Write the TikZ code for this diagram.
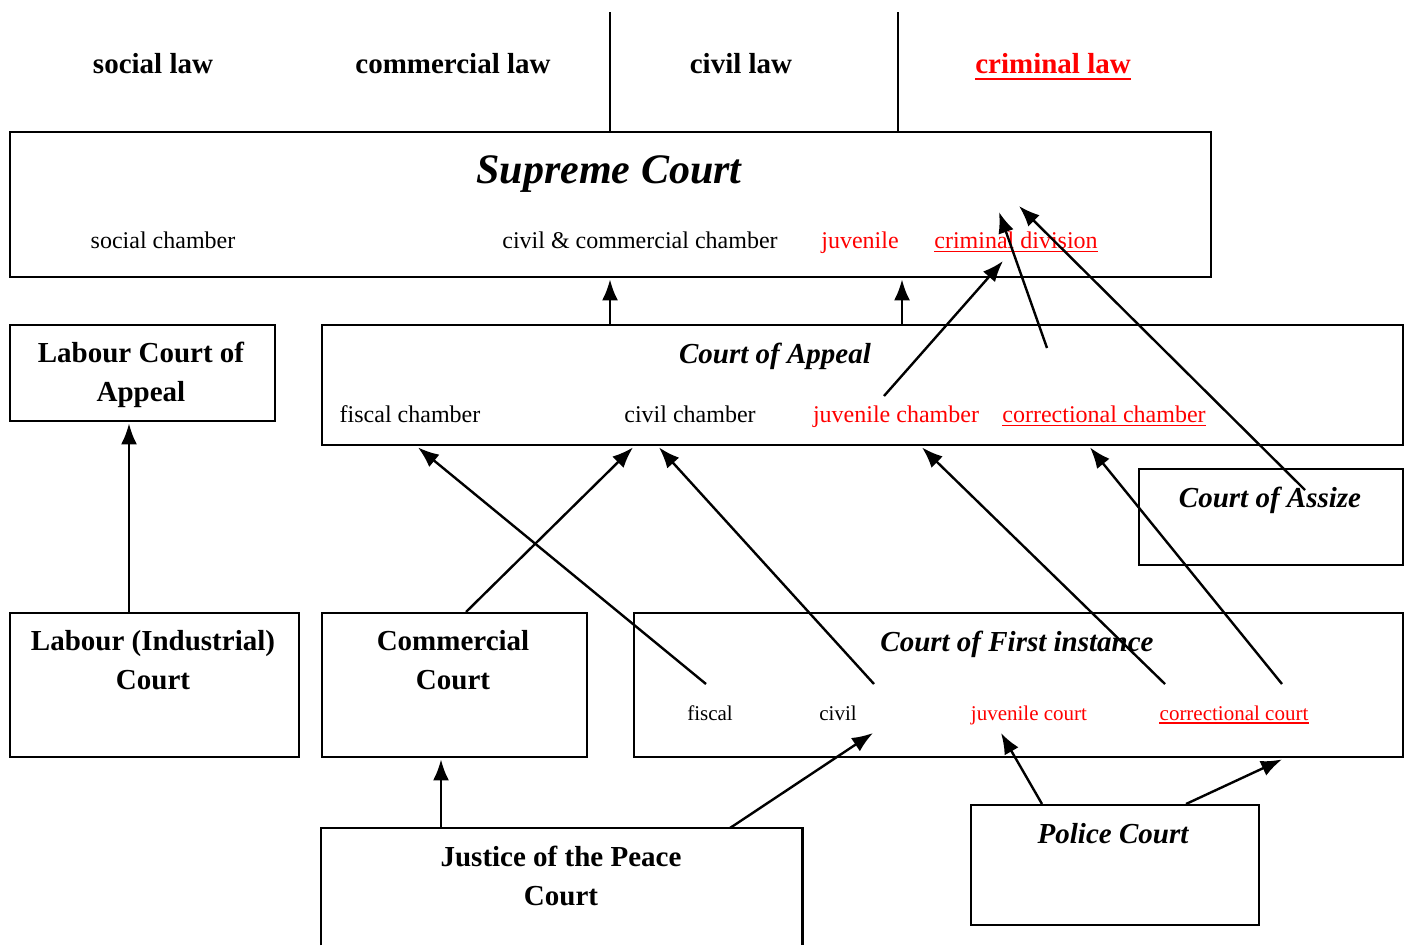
\documentclass[tikz,border=0pt]{standalone}
\usepackage{fontspec}
\setmainfont{Liberation Serif}
\usetikzlibrary{arrows.meta}

\begin{document}
\begin{tikzpicture}[x=1pt,y=-1pt,
  box/.style={draw, line width=2.4pt, inner sep=0pt, anchor=north west},
  head/.style={font=\fontsize{29}{39}\selectfont\bfseries, align=center, inner sep=0pt},
  ihead/.style={font=\fontsize{29}{39}\selectfont\bfseries\itshape, align=center, inner sep=0pt, anchor=base},
  lbl/.style={font=\fontsize{24}{28}\selectfont, inner sep=0pt, anchor=base},
  slbl/.style={font=\fontsize{21}{25}\selectfont, inner sep=0pt, anchor=base},
  crim/.style={text=red},
  uline/.style={draw=red, line width=1.4pt},
  link/.style={line width=2.4pt, -{Latex[length=21pt,width=16pt]}},
  divider/.style={line width=1.4pt}
]
\useasboundingbox (0,0) rectangle (1408,945);

% branches of law
\node[head] (tsoc) at (153,64) {social law};
\node[head] (tcom) at (453,64) {commercial law};
\node[head] (tciv) at (741,64) {civil law};
\node[head, crim] (tcri) at (1053,64) {criminal law};
\draw[uline, line width=2.2pt] ([yshift=-5pt]tcri.base west) -- ([yshift=-5pt]tcri.base east);

% courts
\node[box, minimum width=1201pt, minimum height=145pt] (sc) at (9,131) {};
\node[box, minimum width=1081pt, minimum height=120pt] (coa) at (321,324) {};
\node[box, minimum width=265pt, minimum height=96pt] (lca) at (9,324) {};
\node[box, minimum width=264pt, minimum height=96pt] (ass) at (1138,468) {};
\node[box, minimum width=289pt, minimum height=144pt] (lab) at (9,612) {};
\node[box, minimum width=265pt, minimum height=144pt] (com) at (321,612) {};
\node[box, minimum width=769pt, minimum height=144pt] (cfi) at (633,612) {};
\node[box, minimum width=288pt, minimum height=120pt] (pol) at (970,804) {};
\node[inner sep=0pt, anchor=north west, minimum width=481pt, minimum height=117pt] (jp) at (321,828) {};
\draw[line width=2.4pt] (jp.south west) |- (jp.north east) -- (jp.south east);

% separators between the law branches
\coordinate (s1) at (610,12);
\coordinate (s2) at (898,12);
\draw[divider] (sc.north -| s1) -- (s1);
\draw[divider] (sc.north -| s2) -- (s2);

% Supreme Court
\node[ihead, font=\fontsize{42}{48}\selectfont\bfseries\itshape] (sct) at (609,183) {Supreme Court};
\node[lbl] (scs) at (163,248) {social chamber};
\node[lbl] (scc) at (640,248) {civil \& commercial chamber};
\node[lbl, crim] (scj) at (860,248) {juvenile};
\node[lbl, crim] (scd) at (1016,248) {criminal division};
\draw[uline] ([yshift=-3.5pt]scd.base west) -- ([yshift=-3.5pt]scd.base east);

% Court of Appeal
\node[ihead] (coat) at (775,363) {Court of Appeal};
\node[lbl] (caf) at (410,422) {fiscal chamber};
\node[lbl] (cac) at (690,422) {civil chamber};
\node[lbl, crim] (caj) at (896,422) {juvenile chamber};
\node[lbl, crim] (cak) at (1104,422) {correctional chamber};
\draw[uline] ([yshift=-3.5pt]cak.base west) -- ([yshift=-3.5pt]cak.base east);

% other courts
\node[head] (lcat) at (141,375) {Labour Court of\\Appeal};
\node[ihead] (asst) at (1270,507) {Court of Assize};
\node[head] (labt) at (153,660) {Labour (Industrial)\\Court};
\node[head] (comt) at (453,660) {Commercial\\Court};
\node[head] (jpt) at (561,876) {Justice of the Peace\\Court};
\node[ihead] (polt) at (1113,843) {Police Court};

% Court of First instance
\node[ihead] (cfit) at (1017,651) {Court of First instance};
\node[slbl] (cff) at (710,720) {fiscal};
\node[slbl] (cfc) at (838,720) {civil};
\node[slbl, crim] (cfj) at (1029,720) {juvenile court};
\node[slbl, crim] (cfk) at (1234,720) {correctional court};
\draw[uline, line width=1.2pt] ([yshift=-3pt]cfk.base west) -- ([yshift=-3pt]cfk.base east);

% anchor points of the appeal routes
\coordinate (xa) at (129,0);
\coordinate (xb) at (610,0);
\coordinate (xc) at (902,0);
\coordinate (xd) at (441,0);
\coordinate (xe) at (466,0);
\coordinate (xf) at (633,0);
\coordinate (xg) at (1186,0);
\coordinate (xh) at (1282,0);
\coordinate (xi) at (730,0);
\coordinate (xj) at (1042,0);
\coordinate (xk) at (418,0);
\coordinate (xl) at (659,0);
\coordinate (xm) at (922,0);
\coordinate (xn) at (1090,0);
\coordinate (p1) at (873,733);
\coordinate (p2) at (1001,733);
\coordinate (f1) at (706,684);
\coordinate (f2) at (874,684);
\coordinate (f3) at (1165,684);
\coordinate (f4) at (1282,684);
\coordinate (a1) at (884,396);
\coordinate (a2) at (1003,261);
\coordinate (a3) at (1047,348);
\coordinate (a4) at (999,212);
\coordinate (a5) at (1305,490);
\coordinate (a6) at (1019,206);

% appeal routes
\draw[link] (lab.north -| xa) -- ([yshift=-1pt]lca.south -| xa);
\draw[link] (coa.north -| xb) -- ([yshift=-1pt]sc.south -| xb);
\draw[link] (coa.north -| xc) -- ([yshift=-1pt]sc.south -| xc);
\draw[link] (jp.north -| xd) -- ([yshift=-1pt]com.south -| xd);
\draw[link] (com.north -| xe) -- ([yshift=-1pt]coa.south -| xf);
\draw[link] (pol.north -| xg) -- ([yshift=-1pt]cfi.south -| xh);
\draw[link] (jp.north -| xi) -- (p1);
\draw[link] (pol.north -| xj) -- (p2);
\draw[link] (f1) -- ([yshift=-1pt]coa.south -| xk);
\draw[link] (f2) -- ([yshift=-1pt]coa.south -| xl);
\draw[link] (f3) -- ([yshift=-1pt]coa.south -| xm);
\draw[link] (f4) -- ([yshift=-1pt]coa.south -| xn);
\draw[link] (a1) -- (a2);
\draw[link] (a3) -- (a4);
\draw[link] (a5) -- (a6);
\end{tikzpicture}
\end{document}
